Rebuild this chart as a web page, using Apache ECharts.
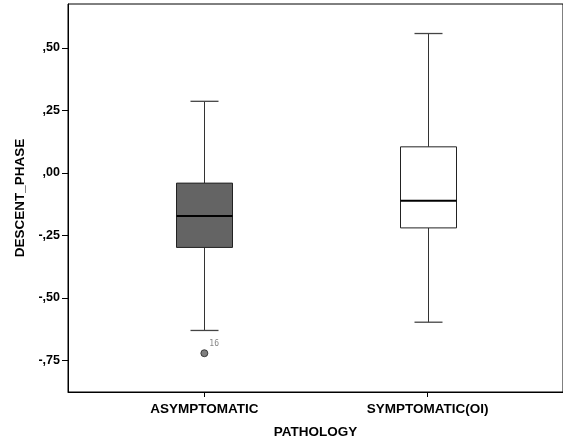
<!DOCTYPE html>
<html>
<head>
<meta charset="utf-8">
<script src="https://cdn.jsdelivr.net/npm/echarts@6/dist/echarts.min.js"></script>
<style>html,body{margin:0;padding:0;background:#fff}#c{width:563px;height:444px}</style>
</head>
<body>
<div id="c"></div>
<script>
const categories = ['ASYMPTOMATIC', 'SYMPTOMATIC(OI)'];
const whiskerLow = [-0.630, -0.597];
const q1 = [-0.298, -0.220];
const median = [-0.172, -0.111];
const q3 = [-0.041, 0.104];
const whiskerHigh = [0.286, 0.557];
const boxFill = ['#646464', '#ffffff'];
const outliers = [[0, -0.721, '16']];
const yTicks = [-0.75, -0.5, -0.25, 0, 0.25, 0.5];

const boxData = categories.map((c, i) => [i, whiskerLow[i], q1[i], median[i], q3[i], whiskerHigh[i]]);

const chart = echarts.init(document.getElementById('c'), null, {renderer: 'canvas'});
const font = 'Liberation Sans, Arial, sans-serif';

chart.setOption({
  animation: false,
  grid: {left: 68, top: 4, right: -1, bottom: 49, show: true, borderColor: '#000', borderWidth: 1, backgroundColor: 'transparent'},
  xAxis: {
    type: 'value', min: -0.611, max: 1.607,
    name: 'PATHOLOGY', nameLocation: 'middle', nameGap: 33,
    nameTextStyle: {fontFamily: font, fontWeight: 'bold', fontSize: 13.5, color: '#000'},
    splitLine: {show: false},
    axisLine: {onZero: false, lineStyle: {color: '#000', width: 1}},
    axisTick: {show: true, length: 5, customValues: categories.map((c, i) => i), lineStyle: {color: '#000'}},
    axisLabel: {customValues: categories.map((c, i) => i), margin: 10, fontFamily: font, fontWeight: 'bold', fontSize: 13.5, color: '#000',
      formatter: v => categories[Math.round(v)] || ''}
  },
  yAxis: {
    type: 'value', min: -0.876, max: 0.675,
    name: 'DESCENT_PHASE', nameLocation: 'middle', nameGap: 37,
    nameTextStyle: {fontFamily: font, fontWeight: 'bold', fontSize: 13.5, color: '#000'},
    splitLine: {show: false},
    axisLine: {show: true, onZero: false, lineStyle: {color: '#000', width: 1}},
    axisTick: {show: true, length: 6, customValues: yTicks, lineStyle: {color: '#000'}},
    axisLabel: {customValues: yTicks, margin: 8, fontFamily: font, fontWeight: 'bold', fontSize: 12.5, color: '#000',
      formatter: v => v.toFixed(2).replace('0.', ',')}
  },
  series: [
    {
      type: 'custom',
      data: boxData,
      encode: {x: 0, y: [1, 2, 3, 4, 5]},
      renderItem: function (params, api) {
        const x = api.value(0);
        const pLow = api.coord([x, api.value(1)]);
        const pQ1 = api.coord([x, api.value(2)]);
        const pMed = api.coord([x, api.value(3)]);
        const pQ3 = api.coord([x, api.value(4)]);
        const pHigh = api.coord([x, api.value(5)]);
        const cx = Math.round(pLow[0]) + 0.5;
        const bw = 56, cw = 28;
        const idx = params.dataIndex;
        const wStyle = {stroke: '#333', lineWidth: 1};
        return {
          type: 'group',
          children: [
            {type: 'line', shape: {x1: cx, y1: pLow[1], x2: cx, y2: pQ1[1]}, style: wStyle},
            {type: 'line', shape: {x1: cx, y1: pQ3[1], x2: cx, y2: pHigh[1]}, style: wStyle},
            {type: 'line', shape: {x1: cx - cw / 2, y1: pLow[1], x2: cx + cw / 2, y2: pLow[1]}, style: {stroke: '#444', lineWidth: 1.3}},
            {type: 'line', shape: {x1: cx - cw / 2, y1: pHigh[1], x2: cx + cw / 2, y2: pHigh[1]}, style: {stroke: '#444', lineWidth: 1.3}},
            {type: 'rect', shape: {x: cx - bw / 2, y: pQ3[1], width: bw, height: pQ1[1] - pQ3[1]},
              style: {fill: boxFill[idx], stroke: '#222', lineWidth: 1}},
            {type: 'line', shape: {x1: cx - bw / 2, y1: pMed[1], x2: cx + bw / 2, y2: pMed[1]}, style: {stroke: '#000', lineWidth: 2}}
          ]
        };
      }
    },
    {
      type: 'scatter',
      data: outliers.map(o => ({value: [o[0], o[1]], name: o[2]})),
      symbol: 'circle', symbolSize: 7,
      itemStyle: {color: '#606060', borderColor: '#222', borderWidth: 1},
      label: {show: true, formatter: p => p.name, position: 'right', distance: 1, offset: [0, -9],
        fontFamily: 'DejaVu Sans Mono, monospace', fontSize: 8, color: '#666'}
    }
  ]
});
</script>
</body>
</html>
